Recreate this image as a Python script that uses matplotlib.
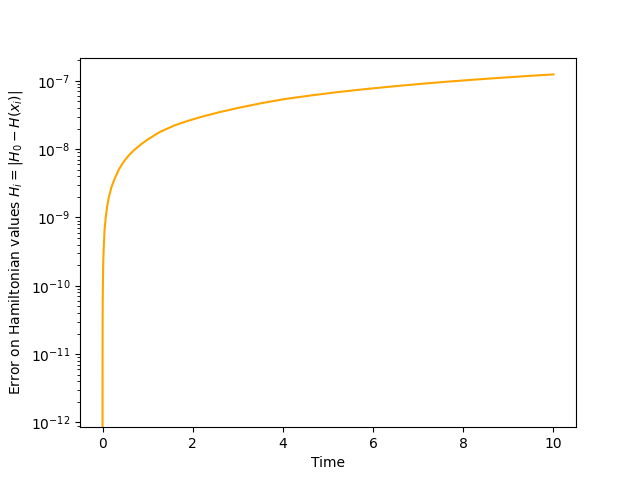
import matplotlib
matplotlib.use("Agg")
import matplotlib.pyplot as plt

time = [0, 1e-4, 0.0005, 0.001, 0.002, 0.004, 0.008, 0.015, 0.025, 0.044,
        0.07, 0.1, 0.14, 0.2, 0.27, 0.36, 0.46, 0.56, 0.7, 0.85, 1.0,
        1.27, 1.6, 1.86, 2.2, 2.6, 3.0, 3.5, 4.0, 4.6, 5.2, 5.8, 6.4,
        7.0, 7.6, 8.2, 8.8, 9.4, 10.0]
error = [0, 1.5e-12, 7e-12, 1.4e-11, 2.8e-11, 5.6e-11, 1.1e-10, 2.1e-10,
         3.5e-10, 6.4e-10, 1.0e-9, 1.42e-9, 1.98e-9, 2.8e-9, 3.7e-9, 5.0e-9,
         6.4e-9, 7.8e-9, 9.7e-9, 1.17e-8, 1.38e-8, 1.78e-8, 2.23e-8, 2.55e-8,
         2.98e-8, 3.48e-8, 4.0e-8, 4.67e-8, 5.35e-8, 6.08e-8, 6.81e-8, 7.52e-8,
         8.23e-8, 8.94e-8, 9.65e-8, 1.034e-7, 1.103e-7, 1.172e-7, 1.24e-7]

fig, ax = plt.subplots(figsize=(6.4, 4.8), dpi=100)
ax.plot(time, error, color="orange")
ax.set_yscale("log")
ax.set_xlabel("Time")
ax.set_ylabel(r"Error on Hamiltonian values $H_i = |H_0 - H(x_i)|$")
fig.savefig("out.png")
